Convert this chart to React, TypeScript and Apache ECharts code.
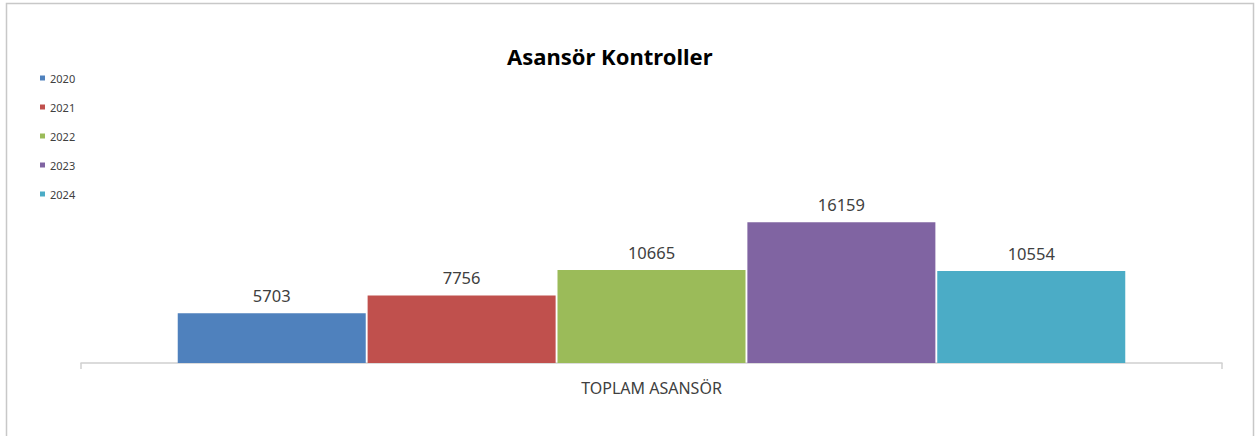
import React, { useEffect, useRef } from "react";
import * as echarts from "echarts";

const categories = ["TOPLAM ASANSÖR"];
const years = ["2020", "2021", "2022", "2023", "2024"];
const values = [5703, 7756, 10665, 16159, 10554];
const colors = ["#4F81BD", "#C0504D", "#9BBB59", "#8064A2", "#4BACC6"];

export default function App() {
  const ref = useRef<HTMLDivElement>(null);
  useEffect(() => {
    if (!ref.current) return;
    const chart = echarts.init(ref.current, null, { renderer: "svg" });
    chart.setOption({
      animation: false,
      backgroundColor: "#ffffff",
      title: {
        text: "Asansör Kontroller",
        left: 502,
        top: 40,
        textStyle: { fontFamily: "Noto Sans", fontSize: 22, fontWeight: "bold", color: "#000000" },
      },
      legend: {
        orient: "vertical",
        left: 35,
        top: 67,
        icon: "rect",
        itemWidth: 5,
        itemHeight: 5,
        itemGap: 17,
        data: years,
        textStyle: { fontFamily: "Noto Sans", fontSize: 11, color: "#404040", lineHeight: 12 },
      },
      graphic: [
        {
          type: "rect",
          shape: { x: 6.5, y: 3.5, width: 1247, height: 450 },
          style: { fill: "none", stroke: "#c8c8c8", lineWidth: 1.5 },
          silent: true,
        },
      ],
      grid: { left: 81, right: 38, top: 58, bottom: 73, containLabel: false },
      xAxis: {
        type: "category",
        data: categories,
        axisLine: { lineStyle: { color: "#d0d0d0", width: 1.5 } },
        axisTick: { show: true, length: 6, lineStyle: { color: "#d0d0d0", width: 1.5 } },
        axisLabel: { fontFamily: "Noto Sans", fontSize: 16, color: "#404040", margin: 17 },
      },
      yAxis: {
        type: "value",
        min: 0,
        max: 35000,
        show: false,
        splitLine: { show: false },
      },
      series: years.map((y, i) => ({
        name: y,
        type: "bar",
        data: [values[i]],
        barWidth: 188,
        barGap: "1%",
        itemStyle: { color: colors[i] },
        label: {
          show: true,
          position: "top",
          distance: 9,
          fontFamily: "Noto Sans",
          fontSize: 16.5,
          color: "#404040",
        },
      })),
    });
    return () => chart.dispose();
  }, []);
  return (
    <div
      ref={ref}
      style={{ position: "absolute", left: 0, top: 0, width: 1260, height: 436 }}
    />
  );
}
